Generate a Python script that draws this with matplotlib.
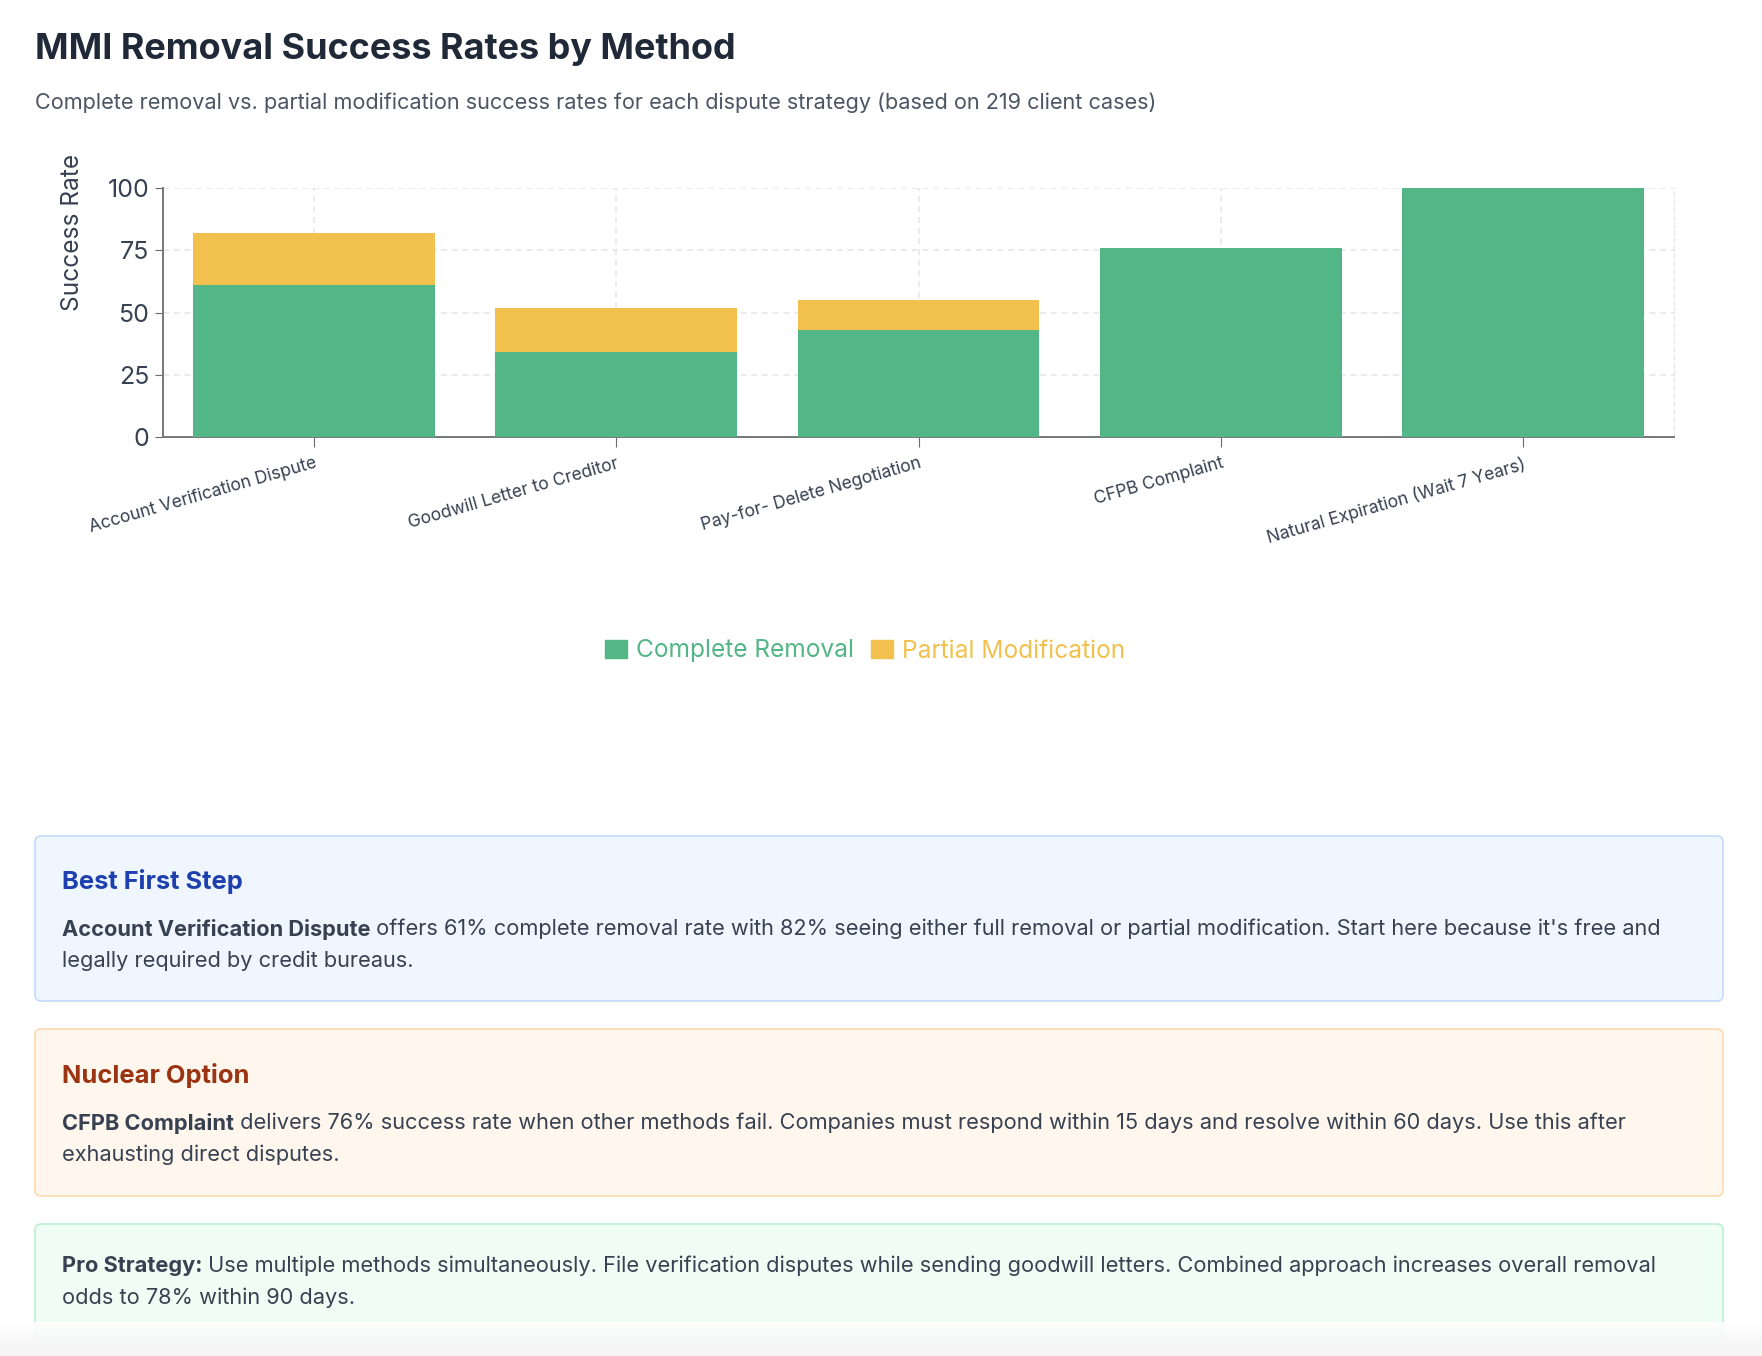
import matplotlib
matplotlib.use("Agg")
import matplotlib.pyplot as plt
from matplotlib.patches import FancyBboxPatch, Patch
import numpy as np

W, H = 1762, 1356
DPI = 100

methods = ["Account Verification Dispute", "Goodwill Letter to Creditor",
           "Pay-for- Delete Negotiation", "CFPB Complaint",
           "Natural Expiration (Wait 7 Years)"]
complete_removal = [61, 34, 43, 76, 100]
partial_modification = [21, 18, 12, 0, 0]
y_ticks = [0, 25, 50, 75, 100]

GREEN = "#53b686"
YELLOW = "#f2c04c"
TEXT = "#374151"
GRID = "#e3e5e9"

plt.rcParams['font.family'] = ['Inter', 'DejaVu Sans']


def pt(px):
    # pixel size -> points at 100 dpi
    return px * 72.0 / DPI


fig = plt.figure(figsize=(W / DPI, H / DPI), dpi=DPI)
fig.patch.set_facecolor("white")

# overlay axes in pixel coordinates (y down) for titles and cards
bg = fig.add_axes([0, 0, 1, 1], zorder=0)
bg.set_xlim(0, W)
bg.set_ylim(H, 0)
bg.axis("off")

bg.text(35, 50, "MMI Removal Success Rates by Method", fontsize=pt(36),
        fontweight="bold", color="#1f2937", va="center", ha="left")
bg.text(35, 103, "Complete removal vs. partial modification success rates for each dispute "
        "strategy (based on 219 client cases)", fontsize=pt(21.7), color="#4b5563",
        va="center", ha="left")

# ---- chart
x0, x1, y0, y1 = 163, 1674, 188, 437
ax = fig.add_axes([x0 / W, 1 - y1 / H, (x1 - x0) / W, (y1 - y0) / H], zorder=1)
ax.set_facecolor("none")
pos = np.arange(len(methods))
ax.bar(pos, complete_removal, width=0.8, color=GREEN, linewidth=0, zorder=3)
ax.bar(pos, partial_modification, width=0.8, bottom=complete_removal,
       color=YELLOW, linewidth=0, zorder=3)
ax.set_xlim(-0.5, len(methods) - 0.5)
ax.set_ylim(0, 100)
ax.set_yticks(y_ticks)
ax.set_xticks(pos)
ax.set_xticklabels(methods, rotation=16, ha="right", rotation_mode="anchor",
                   fontsize=pt(17.5))
ax.tick_params(axis="y", labelsize=pt(25), colors="#6b6b6b", labelcolor=TEXT,
               length=6, pad=4)
ax.tick_params(axis="x", colors="#6b6b6b", labelcolor=TEXT, length=7, pad=6)
ax.grid(True, color=GRID, linestyle=(0, (4, 3)), linewidth=1.1, zorder=0)
ax.spines["top"].set_visible(False)
ax.spines["right"].set_color(GRID)
ax.spines["right"].set_linestyle((0, (4, 3)))
ax.spines["left"].set_color("#777777")
ax.spines["bottom"].set_color("#777777")
ax.spines["left"].set_linewidth(1.4)
ax.spines["bottom"].set_linewidth(1.4)
ax.set_ylabel("Success Rate", fontsize=pt(24.5), color=TEXT)
ax.yaxis.set_label_coords(-0.052, 0.82)

handles = [Patch(color=GREEN), Patch(color=YELLOW)]
fig.legend(handles, ["Complete Removal", "Partial Modification"], loc="center",
           bbox_to_anchor=(865 / W, 1 - 651 / H), ncol=2, frameon=False,
           fontsize=pt(24.5), labelcolor=[GREEN, YELLOW], handlelength=0.9,
           handleheight=0.7, handletextpad=0.35, columnspacing=0.7)

# ---- cards
renderer = fig.canvas.get_renderer()


def rich_line(x, y, parts, size):
    for txt, weight in parts:
        t = bg.text(x, y, txt, fontsize=size, fontweight=weight, color=TEXT,
                    va="center", ha="left")
        x += t.get_window_extent(renderer).width


def card(top, bottom, face, edge):
    bg.add_patch(FancyBboxPatch((35, top), 1723 - 35, bottom - top,
                                boxstyle="round,pad=0,rounding_size=6",
                                facecolor=face, edgecolor=edge, linewidth=1.2))


body = pt(21.8)

card(836, 1001, "#eff6ff", "#c3dafe")
bg.text(62, 881, "Best First Step", fontsize=pt(25.5), fontweight="bold",
        color="#1e40af", va="center", ha="left")
rich_line(62, 929, [("Account Verification Dispute", "bold"),
                    (" offers 61% complete removal rate with 82% seeing either full removal "
                     "or partial modification. Start here because it's free and", "normal")], body)
rich_line(62, 961, [("legally required by credit bureaus.", "normal")], body)

card(1029, 1196, "#fff7ed", "#fcd9b0")
bg.text(62, 1075, "Nuclear Option", fontsize=pt(25.5), fontweight="bold",
        color="#9a3412", va="center", ha="left")
rich_line(62, 1123, [("CFPB Complaint", "bold"),
                     (" delivers 76% success rate when other methods fail. Companies must "
                      "respond within 15 days and resolve within 60 days. Use this after", "normal")], body)
rich_line(62, 1155, [("exhausting direct disputes.", "normal")], body)

card(1224, 1338, "#f0fdf4", "#bbf0cf")
rich_line(62, 1266, [("Pro Strategy:", "bold"),
                     (" Use multiple methods simultaneously. File verification disputes while "
                      "sending goodwill letters. Combined approach increases overall removal", "normal")], body)
rich_line(62, 1298, [("odds to 78% within 90 days.", "normal")], body)

# soft shadow at the bottom edge of the page
grad = np.linspace(0, 1, 64).reshape(-1, 1)
bg.imshow(grad, extent=(0, W, H, 1322), cmap="Greys", vmin=0, vmax=9,
          alpha=0.9, aspect="auto", zorder=5)
bg.set_xlim(0, W)
bg.set_ylim(H, 0)

fig.savefig("out.png", dpi=DPI)
